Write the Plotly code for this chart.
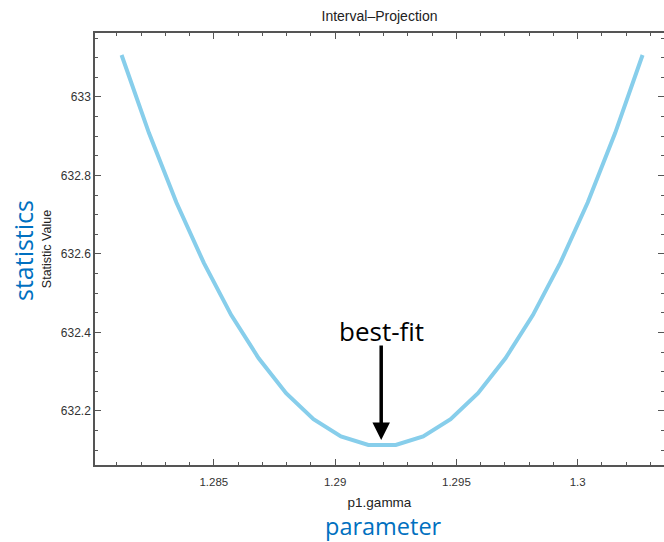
import plotly.graph_objects as go

# Interval projection of the fit statistic over p1.gamma
gamma = [1.281195, 1.282326, 1.283456, 1.284587, 1.285717, 1.286848, 1.287979,
         1.289109, 1.290240, 1.291370, 1.292501, 1.293631, 1.294762, 1.295892,
         1.297023, 1.298154, 1.299284, 1.300415, 1.301545, 1.302676]
stat = [633.107, 632.908, 632.731, 632.577, 632.444, 632.334, 632.245,
        632.179, 632.135, 632.113, 632.113, 632.135, 632.179, 632.245,
        632.334, 632.444, 632.577, 632.731, 632.908, 633.107]

x_ticks = [1.285, 1.29, 1.295, 1.3]
x_tick_text = ["1.285", "1.29", "1.295", "1.3"]
y_ticks = [632.2, 632.4, 632.6, 632.8, 633.0]
y_tick_text = ["632.2", "632.4", "632.6", "632.8", "633"]

best_fit_gamma = 1.29190
best_fit_stat = 632.126

x_range = [1.28010, 1.30356]
y_range = [632.062, 633.163]

AXIS_COLOR = "#555555"
TEXT_COLOR = "#333333"
BLUE = "#0070C0"
BASE_FONT = "Liberation Sans, Arial, sans-serif"
CALLOUT_FONT = "Open Sans, Noto Sans, sans-serif"

fig = go.Figure()
fig.add_trace(go.Scatter(
    x=gamma, y=stat, mode="lines",
    line=dict(color="#87CEEB", width=4),
    showlegend=False, hoverinfo="x+y",
))
# invisible trace that carries the right-hand tick marks
fig.add_trace(go.Scatter(x=[gamma[0]], y=[stat[0]], yaxis="y2",
                         mode="markers", marker=dict(opacity=0),
                         showlegend=False, hoverinfo="skip"))

fig.update_layout(
    width=664, height=542,
    margin=dict(l=95, r=0, t=33, b=77),
    paper_bgcolor="white", plot_bgcolor="white",
    font=dict(family=BASE_FONT, color=TEXT_COLOR, size=12),
    title=dict(text="Interval\u2013Projection", x=(95 + 664) / 2 / 664,
               xanchor="center", y=1 - 16 / 542, yanchor="middle",
               font=dict(size=14, color="#222222")),
    xaxis=dict(
        range=x_range, showgrid=False, zeroline=False,
        showline=True, linecolor=AXIS_COLOR, linewidth=1.5, mirror="ticks",
        ticks="inside", ticklen=6, tickwidth=1.2, tickcolor=AXIS_COLOR,
        tickvals=x_ticks, ticktext=x_tick_text, ticklabelstandoff=5,
        tickfont=dict(size=11.5, color=TEXT_COLOR),
        minor=dict(dtick=0.001, tick0=1.28, ticks="inside", ticklen=3,
                   tickwidth=1, tickcolor=AXIS_COLOR, showgrid=False),
        title=dict(text="p1.gamma", standoff=11,
                   font=dict(size=13.5, color="#222222")),
    ),
    yaxis=dict(
        range=y_range, showgrid=False, zeroline=False,
        showline=True, linecolor=AXIS_COLOR, linewidth=1.5, mirror=False,
        ticks="inside", ticklen=6, tickwidth=1.2, tickcolor=AXIS_COLOR,
        tickvals=y_ticks, ticktext=y_tick_text,
        tickfont=dict(size=12, color=TEXT_COLOR),
        minor=dict(dtick=0.05, tick0=632.0, ticks="inside", ticklen=3,
                   tickwidth=1, tickcolor=AXIS_COLOR, showgrid=False),
        title=dict(text="Statistic Value", standoff=6,
                   font=dict(size=12.5, color="#222222")),
    ),
    yaxis2=dict(
        range=y_range, overlaying="y", side="right", showgrid=False,
        zeroline=False, showline=False, showticklabels=False,
        ticks="inside", ticklen=6, tickwidth=1.2, tickcolor=AXIS_COLOR,
        tickvals=y_ticks,
        minor=dict(dtick=0.05, tick0=632.0, ticks="inside", ticklen=3,
                   tickwidth=1, tickcolor=AXIS_COLOR, showgrid=False),
    ),
)

# best-fit arrow and callouts
fig.add_annotation(x=best_fit_gamma, y=best_fit_stat, xref="x", yref="y",
                   text="", showarrow=True, ax=0, ay=-96,
                   arrowhead=2, arrowsize=1, arrowwidth=3.5, arrowcolor="black")
fig.add_annotation(x=best_fit_gamma, y=1 - (331 - 33) / 432, xref="x", yref="paper",
                   text="best-fit", showarrow=False, xanchor="center", yanchor="middle",
                   font=dict(family=CALLOUT_FONT, size=26, color="black"))
fig.add_annotation(x=(23 - 95) / 569, y=(465 - 251) / 432, xref="paper", yref="paper",
                   text="statistics", showarrow=False, textangle=-90,
                   xanchor="center", yanchor="middle",
                   font=dict(family=CALLOUT_FONT, size=25, color=BLUE))
fig.add_annotation(x=(383 - 95) / 569, y=(465 - 526) / 432, xref="paper", yref="paper",
                   text="parameter", showarrow=False, borderpad=0,
                   xanchor="center", yanchor="middle",
                   font=dict(family=CALLOUT_FONT, size=23.5, color=BLUE))

fig.write_html("out.html")
